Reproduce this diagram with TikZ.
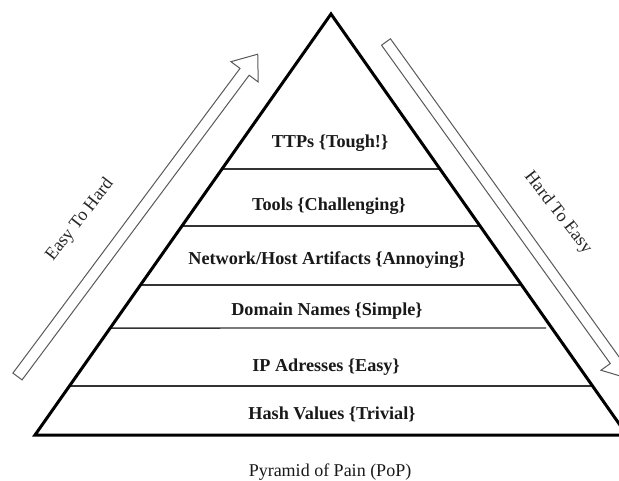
\documentclass[tikz,border=0pt]{standalone}
\usepackage{fontspec}
\setmainfont{Liberation Serif}
\usetikzlibrary{calc}
\begin{document}
\begin{tikzpicture}[x=1pt,y=1pt,
  edge/.style={line width=3pt,black,line join=miter},
  tier/.style={line width=1.4pt,black!80},
  lvl/.style={font=\fontsize{18.2}{20}\selectfont\bfseries,text=black!90,inner sep=0pt},
  blockarrow/.style={draw=black!65,line width=1pt,fill=white,line join=miter},
  sidelbl/.style={font=\fontsize{18}{20}\selectfont,text=black!85,inner sep=0pt},
  caption/.style={font=\fontsize{18}{20}\selectfont,text=black!90,inner sep=0pt}]
\useasboundingbox (0,0) rectangle (619,480);
\clip (0,0) rectangle (619,480);
\fill[white] (0,0) rectangle (619,480);
% triangle corners
\coordinate (BL) at (35,45);
\coordinate (A) at (331,466);
\coordinate (BR) at (627,45);
% tier boundaries
\coordinate (L1) at ($(BL)!0.632!(A)$);
\coordinate (R1) at ($(BR)!0.632!(A)$);
\coordinate (L2) at ($(BL)!0.496!(A)$);
\coordinate (R2) at ($(BR)!0.496!(A)$);
\coordinate (L3) at ($(BL)!0.356!(A)$);
\coordinate (R3) at ($(BR)!0.356!(A)$);
\coordinate (L4) at ($(BL)!0.254!(A)$);
\coordinate (R4) at (546,152);
\coordinate (L5) at ($(BL)!0.116!(A)$);
\coordinate (R5) at ($(BR)!0.116!(A)$);
\draw[tier] (L1) -- (R1);
\draw[tier] (L2) -- (R2);
\draw[tier] (L3) -- (R3);
\draw[tier] (L4) -- (R4);
\draw[tier] (L5) -- (R5);
\draw[edge] (BL) -- (A) -- (BR) -- cycle;
% labels
\node[lvl] (ttp) at (330,337) {TTPs \{Tough!\}};
\node[lvl] (tools) at (329,274) {Tools \{Challenging\}};
\node[lvl] (net) at (327,220) {Network/Host Artifacts \{Annoying\}};
\node[lvl] (dom) at (327,169) {Domain Names \{Simple\}};
\node[lvl] (ip) at (326,113) {IP Adresses \{Easy\}};
\node[lvl] (hash) at (332,66) {Hash Values \{Trivial\}};
% left block arrow
\begin{scope}[shift={(17.5,103.5)},rotate=53.3]
\draw[blockarrow] (0,-5.7) -- (380,-5.7) -- (380,-17) -- (402,0) -- (380,17) -- (380,5.7) -- (0,5.7) -- cycle;
\end{scope}
% right block arrow
\begin{scope}[shift={(386,438)},rotate=-54.3]
\draw[blockarrow] (0,-5.5) -- (392,-5.5) -- (392,-17) -- (414,0) -- (392,17) -- (392,5.5) -- (0,5.5) -- cycle;
\end{scope}
\node[sidelbl,rotate=52] (easy) at (80,260) {Easy To Hard};
\node[sidelbl,rotate=-52] (hard) at (558,267) {Hard To Easy};
\node[caption] (cap) at (330,8) {Pyramid of Pain (PoP)};
\end{tikzpicture}
\end{document}
